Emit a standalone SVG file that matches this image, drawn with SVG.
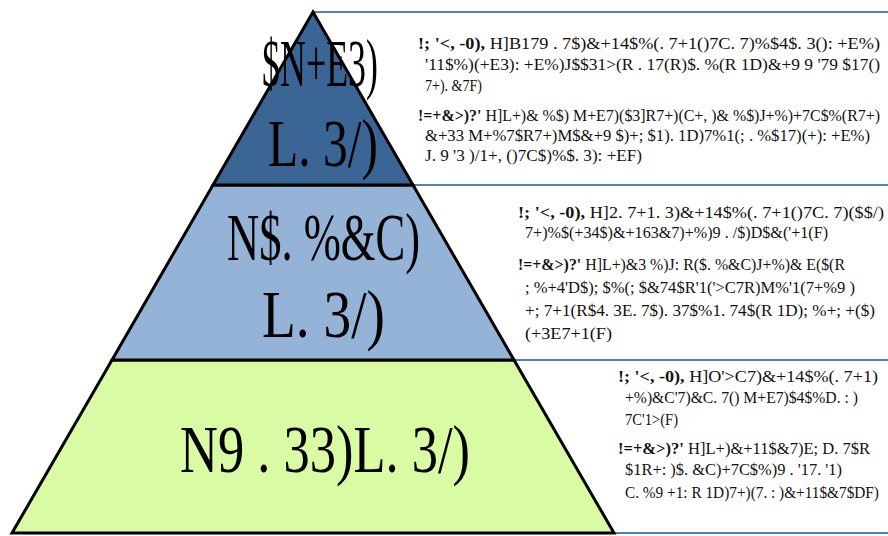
<svg xmlns="http://www.w3.org/2000/svg" width="888" height="536" viewBox="0 0 888 536">
<style>
.big{font-family:"Liberation Serif",serif;font-size:68px;fill:#000}
.sm{font-family:"Liberation Serif",serif;font-size:16px;fill:#111}
.b{font-weight:bold}
.band{stroke:#000;stroke-width:3;stroke-linejoin:miter}
.rule{stroke:#4F81BD;stroke-width:2}
</style>
<rect width="888" height="536" fill="#fff"/>
<g id="connectors">
<line class="rule" x1="313" y1="12" x2="888" y2="12"/>
<line class="rule" x1="413" y1="185" x2="888" y2="185"/>
<line class="rule" x1="514" y1="360" x2="888" y2="360"/>
<line class="rule" x1="614" y1="533" x2="888" y2="533"/>
</g>
<g id="bottom">
<polygon class="band" points="112,360 514,360 614,533 12,533" fill="#D8FBA4"/>
<text class="big" transform="translate(180,472) scale(0.772,1)" x="0" y="0" textLength="375.6" lengthAdjust="spacingAndGlyphs">N9 . 33)L. 3/)</text>
<text class="sm" x="618" y="382" textLength="260" lengthAdjust="spacingAndGlyphs"><tspan class="b">!; '&lt;, -0), </tspan>H]O'&gt;C7)&amp;+14$%(. 7+1)</text>
<text class="sm" x="625" y="403" textLength="233" lengthAdjust="spacingAndGlyphs">+%)&amp;C'7)&amp;C. 7() M+E7)$4$%D. : )</text>
<text class="sm" x="625" y="425" textLength="53" lengthAdjust="spacingAndGlyphs">7C'1&gt;(F)</text>
<text class="sm" x="618" y="454" textLength="252" lengthAdjust="spacingAndGlyphs"><tspan class="b">!=+&amp;&gt;)?' </tspan>H]L+)&amp;+11$&amp;7)E; D. 7$R</text>
<text class="sm" x="625" y="475" textLength="217" lengthAdjust="spacingAndGlyphs">$1R+: )$. &amp;C)+7C$%)9 . '17. '1)</text>
<text class="sm" transform="translate(625,498) scale(0.85,1)" x="0" y="0" textLength="298.8" lengthAdjust="spacingAndGlyphs">C. %9 +1: R 1D)7+)(7. : )&amp;+11$&amp;7$DF)</text>
</g>
<g id="middle">
<polygon class="band" points="213,185 413,185 514,360 112,360" fill="#95B3D7"/>
<text class="big" transform="translate(227,260) scale(0.655,1)" x="0" y="0" textLength="294.7" lengthAdjust="spacingAndGlyphs">N$. %&amp;C)</text>
<text class="big" transform="translate(262,337) scale(0.814,1)" x="0" y="0" textLength="151.1" lengthAdjust="spacingAndGlyphs">L. 3/)</text>
<text class="sm" x="518" y="218" textLength="366" lengthAdjust="spacingAndGlyphs"><tspan class="b">!; '&lt;, -0), </tspan>H]2. 7+1. 3)&amp;+14$%(. 7+1()7C. 7)($$/)</text>
<text class="sm" x="525" y="238" textLength="303" lengthAdjust="spacingAndGlyphs">7+)%$(+34$)&amp;+163&amp;7)+%)9 . /$)D$&amp;('+1(F)</text>
<text class="sm" x="518" y="270" textLength="327" lengthAdjust="spacingAndGlyphs"><tspan class="b">!=+&amp;&gt;)?' </tspan>H]L+)&amp;3 %)J: R($. %&amp;C)J+%)&amp; E($(R</text>
<text class="sm" x="525" y="293" textLength="330" lengthAdjust="spacingAndGlyphs">; %+4'D$); $%(; $&amp;74$R'1('&gt;C7R)M%'1(7+%9 )</text>
<text class="sm" x="525" y="316" textLength="350" lengthAdjust="spacingAndGlyphs">+; 7+1(R$4. 3E. 7$). 37$%1. 74$(R 1D); %+; +($)</text>
<text class="sm" x="525" y="339" textLength="87" lengthAdjust="spacingAndGlyphs">(+3E7+1(F)</text>
</g>
<g id="top">
<polygon class="band" points="313,12 413,185 213,185" fill="#3A6594"/>
<text class="big" transform="translate(262,86) scale(0.528,1)" x="0" y="0" textLength="219.7" lengthAdjust="spacingAndGlyphs">$N+E3)</text>
<text class="big" transform="translate(268,166) scale(0.728,1)" x="0" y="0" textLength="151.1" lengthAdjust="spacingAndGlyphs">L. 3/)</text>
<text class="sm" x="418" y="49" textLength="462" lengthAdjust="spacingAndGlyphs"><tspan class="b">!; '&lt;, -0), </tspan>H]B179 . 7$)&amp;+14$%(. 7+1()7C. 7)%$4$. 3(): +E%)</text>
<text class="sm" x="425" y="70" textLength="455" lengthAdjust="spacingAndGlyphs">'11$%)(+E3): +E%)J$$31&gt;(R . 17(R)$. %(R 1D)&amp;+9 9 '79 $17()</text>
<text class="sm" x="425" y="91" textLength="57" lengthAdjust="spacingAndGlyphs">7+). &amp;7F)</text>
<text class="sm" x="418" y="121" textLength="462" lengthAdjust="spacingAndGlyphs"><tspan class="b">!=+&amp;&gt;)?' </tspan>H]L+)&amp; %$) M+E7)($3]R7+)(C+, )&amp; %$)J+%)+7C$%(R7+)</text>
<text class="sm" x="425" y="141" textLength="445" lengthAdjust="spacingAndGlyphs">&amp;+33 M+%7$R7+)M$&amp;+9 $)+; $1). 1D)7%1(; . %$17)(+): +E%)</text>
<text class="sm" x="425" y="161" textLength="217" lengthAdjust="spacingAndGlyphs">J. 9 '3 )/1+, ()7C$)%$. 3): +EF)</text>
</g>
</svg>
